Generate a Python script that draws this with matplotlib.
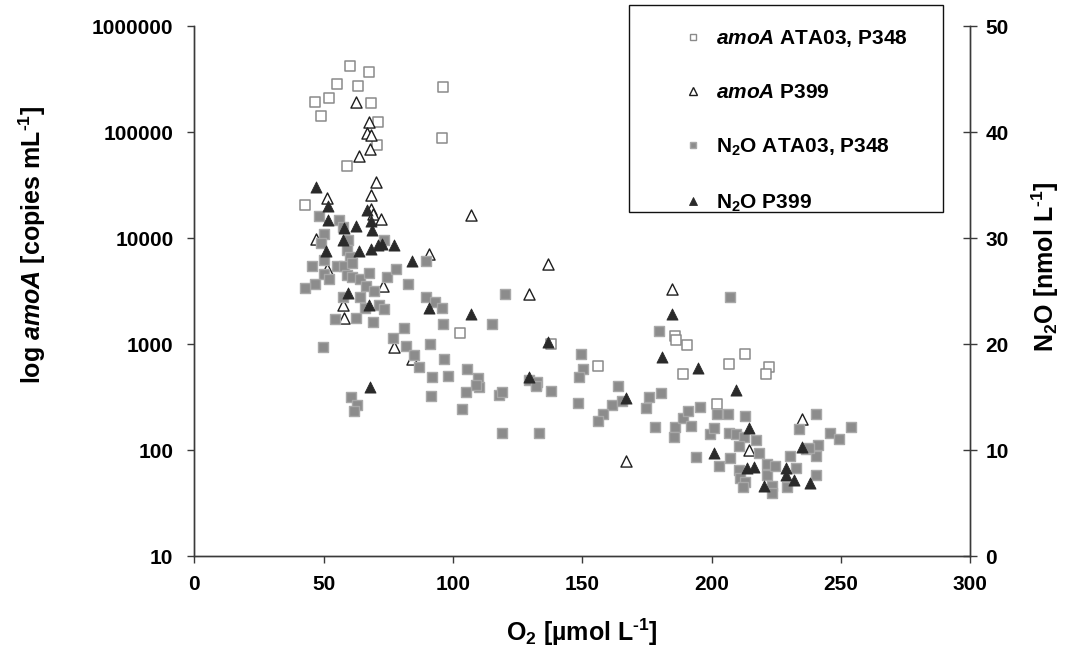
import matplotlib
matplotlib.use("Agg")
import matplotlib.pyplot as plt
from matplotlib.lines import Line2D
from matplotlib.patches import Rectangle
from matplotlib.ticker import FixedLocator, NullLocator, FixedFormatter

plt.rcParams['font.family'] = ['Liberation Sans', 'DejaVu Sans']
plt.rcParams['font.weight'] = 'bold'
plt.rcParams['axes.labelweight'] = 'bold'
plt.rcParams['mathtext.fontset'] = 'custom'
plt.rcParams['mathtext.rm'] = 'Liberation Sans:bold'
plt.rcParams['mathtext.bf'] = 'Liberation Sans:bold'
plt.rcParams['mathtext.it'] = 'Liberation Sans:bold:italic'
plt.rcParams['mathtext.default'] = 'bf'

# ---- data: amoA ATA03, P348 (open squares), copies mL-1
amoA_ata_o2 = [60.1, 67.7, 55.3, 63.1, 51.9, 46.8, 68.3, 48.8, 71.1, 70.7, 59.1,
               96.2, 95.8, 42.9, 102.7, 137.8, 155.9, 185.8, 186.2, 190.6, 213.0,
               206.6, 188.8, 222.2, 220.9, 201.9]
amoA_ata_val = [415000, 372000, 284000, 272000, 211000, 190000, 186000, 142000,
                124000, 76000, 48000, 268000, 88500, 20600, 1270, 990, 625, 1190,
                1090, 977, 805, 646, 521, 603, 521, 272]

# ---- data: amoA P399 (open triangles)
amoA_p399_o2 = [62.4, 67.6, 66.6, 68.2, 67.9, 63.5, 70.3, 68.2, 51.4, 68.2, 69.2,
                72.0, 106.8, 47.2, 90.7, 51.2, 72.8, 57.3, 58.0, 77.3, 84.2, 129.5,
                136.9, 184.8, 234.8, 214.5, 166.8]
amoA_p399_val = [193000, 125000, 98000, 94000, 69500, 60000, 33600, 25500, 23900,
                 18800, 16800, 15100, 16400, 9750, 7000, 5060, 3560, 2320, 1760,
                 927, 725, 2970, 5730, 3270, 198, 100, 79]

# ---- data: N2O ATA03, P348 (grey squares), nmol L-1
n2o_ata_o2 = [48.2, 55.8, 50.2, 57.6, 59.5, 48.9, 73.3, 58.9, 60.2, 50.1, 45.4, 55.1,
              57.7, 60.9, 50.2, 52.1, 46.7, 42.9, 58.9, 61.0, 64.0, 67.7, 74.4, 77.9,
              82.5, 89.5, 66.3, 69.5, 64.0, 57.6, 66.0, 71.4, 73.2, 54.5, 62.5, 69.2,
              89.7, 93.2, 95.9, 120.3, 96.2, 115.0, 81.1, 77.0, 81.9, 84.8, 91.3, 86.7,
              96.6, 91.9, 98.2, 105.4, 109.6, 110.1, 108.8, 104.9, 91.7, 103.6, 117.8,
              119.0, 49.8, 60.5, 63.0, 61.9, 132.0, 129.4, 149.6, 150.3, 148.7, 118.9,
              133.1, 132.6, 132.2, 137.8, 148.2, 163.7, 161.3, 165.5, 157.9, 155.9,
              175.9, 174.8, 178.1, 179.8, 180.3, 185.9, 185.6, 188.9, 191.0, 191.9,
              195.5, 193.9, 199.4, 200.9, 202.0, 206.2, 206.7, 202.8, 207.1, 209.4,
              212.9, 212.5, 210.7, 217.0, 218.2, 210.7, 210.9, 212.9, 212.2, 221.3,
              221.3, 223.3, 223.3, 224.6, 230.3, 232.6, 229.3, 233.8, 240.3, 241.0,
              240.3, 240.3, 245.6, 249.4, 253.7, 236.4, 237.8, 207.1]
n2o_ata_val = [32.1, 31.7, 30.4, 31.0, 29.8, 29.5, 29.8, 28.9, 28.2, 27.9, 27.4, 27.4,
               27.4, 27.6, 26.6, 26.1, 25.7, 25.3, 26.5, 26.3, 26.1, 26.7, 26.3, 27.1,
               25.7, 27.8, 25.5, 25.0, 24.4, 24.4, 23.4, 23.7, 23.3, 22.4, 22.5, 22.1,
               24.4, 24.0, 23.4, 24.7, 21.9, 21.9, 21.5, 20.6, 19.8, 19.0, 20.0, 17.8,
               18.6, 16.9, 17.0, 17.6, 16.8, 15.9, 16.1, 15.5, 15.1, 13.9, 15.2,
               15.5, 19.7, 15.0, 14.2, 13.7, 16.1, 16.6, 19.1, 17.6, 16.9, 11.6,
               11.6, 16.4, 16.0, 15.6, 14.4, 16.0, 14.2, 14.6, 13.4, 12.7,
               15.0, 14.0, 12.2, 21.2, 15.4, 12.2, 11.2, 13.0, 13.7, 12.3,
               14.1, 9.3, 11.5, 12.1, 13.4, 13.4, 11.6, 8.5, 9.2, 11.5,
               13.2, 11.2, 10.4, 10.9, 9.7, 8.1, 7.4, 7.0, 6.5, 8.7,
               7.6, 6.6, 5.9, 8.5, 9.4, 8.3, 6.5, 12.0, 13.4, 10.5,
               9.4, 7.6, 11.6, 11.0, 12.2, 10.1, 10.2, 24.4]

# ---- data: N2O P399 (black triangles)
n2o_p399_o2 = [47.2, 51.5, 51.8, 58.0, 62.4, 66.6, 68.2, 68.6, 57.5, 50.8, 63.6, 68.2,
               70.9, 72.7, 77.3, 84.2, 59.4, 67.6, 90.6, 106.8, 67.9, 129.5, 136.9,
               184.8, 181.0, 194.6, 209.6, 166.8, 214.5, 201.0, 213.8, 216.4, 228.6,
               228.6, 231.8, 220.3, 238.0, 235.1]
n2o_p399_val = [34.8, 33.0, 31.7, 30.9, 31.1, 32.6, 31.6, 30.8, 29.8, 28.8, 28.8, 29.0,
                29.3, 29.4, 29.3, 27.8, 24.8, 23.7, 23.4, 22.8, 15.9, 16.9, 20.2,
                22.8, 18.8, 17.7, 15.7, 14.9, 12.1, 9.7, 8.3, 8.4, 8.3,
                7.6, 7.2, 6.6, 6.9, 10.3]

left_ticks = [10, 100, 1000, 10000, 100000, 1000000]
left_labels = ['10', '100', '1000', '10000', '100000', '1000000']
right_ticks = [0, 10, 20, 30, 40, 50]
x_ticks = [0, 50, 100, 150, 200, 250, 300]

legend_labels = [r'$\mathit{amoA}$ ATA03, P348', r'$\mathit{amoA}$ P399',
                 r'N$_2$O ATA03, P348', r'N$_2$O P399']

W, H = 1065, 652
AX_L, AX_B, AX_W, AX_H = 194.3, 556, 776, 530
fig = plt.figure(figsize=(W / 100, H / 100), dpi=100)
ax = fig.add_axes([AX_L / W, 1 - AX_B / H, AX_W / W, AX_H / H])
ax2 = ax.twinx()

FS = 15
LFS = 18
spine_c = '#3a3a3a'

ms = 7.4
ax.scatter(amoA_ata_o2, amoA_ata_val, marker='s', s=ms**2, facecolor='white',
           edgecolor='#8a8a8a', linewidth=1.1, zorder=3)
ax.scatter(amoA_p399_o2, amoA_p399_val, marker='^', s=(ms + 0.6)**2, facecolor='white',
           edgecolor='#1e1e1e', linewidth=1.0, zorder=3)
ax2.scatter(n2o_ata_o2, n2o_ata_val, marker='s', s=ms**2, facecolor='#8c8c8c',
            edgecolor='#a8a8a8', linewidth=1.0, zorder=3)
ax2.scatter(n2o_p399_o2, n2o_p399_val, marker='^', s=(ms + 0.6)**2, facecolor='#2a2a2a',
            edgecolor='#2a2a2a', linewidth=0.6, zorder=4)

ax.set_yscale('log')
ax.set_ylim(10, 1000000)
ax.set_xlim(0, 300)
ax2.set_ylim(0, 50)

ax.yaxis.set_major_locator(FixedLocator(left_ticks))
ax.yaxis.set_major_formatter(FixedFormatter(left_labels))
ax.yaxis.set_minor_locator(NullLocator())
ax.set_xticks(x_ticks)
ax2.set_yticks(right_ticks)

for a in (ax, ax2):
    for s in a.spines.values():
        s.set_color(spine_c)
        s.set_linewidth(1.0)
ax.spines['top'].set_visible(False)
ax2.spines['top'].set_visible(False)

ax.tick_params(axis='y', direction='out', length=5, width=1, color=spine_c,
               pad=10, labelsize=FS)
ax.tick_params(axis='x', direction='out', length=5, width=1, color=spine_c,
               pad=8.5, labelsize=FS)
ax2.tick_params(axis='y', direction='inout', length=10, width=1, color=spine_c,
                pad=6, labelsize=FS)
for lab in ax.get_xticklabels() + ax.get_yticklabels() + ax2.get_yticklabels():
    lab.set_fontweight('bold')

ax.set_ylabel(r'log $\mathit{amoA}$ [copies mL$^{\text{-1}}$]', fontsize=LFS,
              fontweight='bold', rotation_mode='default', ha='center', va='center')
ax.yaxis.set_label_coords(-(AX_L - 32) / AX_W, (AX_B - 245) / AX_H)
ax2.set_ylabel(r'N$_2$O [nmol L$^{\text{-1}}$]', fontsize=LFS, fontweight='bold',
               rotation=90, rotation_mode='default', ha='center', va='center')
ax2.yaxis.set_label_coords((1045 - AX_L) / AX_W, (AX_B - 267) / AX_H)
ax.set_xlabel(r'O$_2$ [µmol L$^{\text{-1}}$]', fontsize=LFS, fontweight='bold',
              ha='center', va='center')
ax.xaxis.set_label_coords((582 - AX_L) / AX_W, -(632 - AX_B) / AX_H)

# legend box
fig.patches.append(Rectangle((629 / W, 1 - 212 / H), 314 / W, 207 / H,
                             transform=fig.transFigure, facecolor='white',
                             edgecolor='#111111', linewidth=1.0, zorder=5))
handles = [
    Line2D([], [], ls='none', marker='s', ms=5, mfc='white', mec='#8a8a8a', mew=1.0),
    Line2D([], [], ls='none', marker='^', ms=5.5, mfc='white', mec='#1e1e1e', mew=1.0),
    Line2D([], [], ls='none', marker='s', ms=5, mfc='#8c8c8c', mec='#a8a8a8', mew=1.0),
    Line2D([], [], ls='none', marker='^', ms=5.5, mfc='#2a2a2a', mec='#2a2a2a', mew=0.6),
]
leg = fig.legend(handles, legend_labels, loc='upper left',
                 bbox_to_anchor=(682.6 / W, 1 - 28 / H), frameon=False,
                 fontsize=FS, handlelength=1.0, handletextpad=0.6,
                 labelspacing=1.65, borderpad=0, borderaxespad=0)
leg.set_zorder(6)

fig.savefig('out.png', dpi=100)
